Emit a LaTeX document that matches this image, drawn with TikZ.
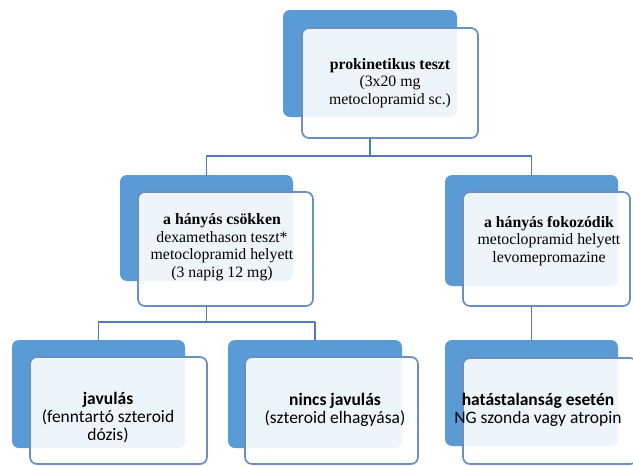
\documentclass[tikz,border=0pt]{standalone}
\usepackage{fontspec}
\setmainfont{Liberation Serif}
\newfontfamily\calfont{Carlito}
\definecolor{boxblue}{HTML}{5B9BD5}
\definecolor{edgeblue}{HTML}{6A90C2}
\definecolor{linkblue}{HTML}{4F7DB0}
\begin{document}
\begin{tikzpicture}[x=1pt,y=-1pt,line cap=round,line join=round,
  back/.style={fill=boxblue,rounded corners=7pt,inner sep=0pt},
  front/.style={draw=edgeblue,line width=1.7pt,fill=white,fill opacity=0.9,rounded corners=7pt,inner sep=0pt},
  link/.style={draw=linkblue,line width=1.6pt},
  serif/.style={align=center,font=\fontsize{15.8}{17.5}\selectfont,inner sep=0pt},
  calib/.style={align=center,font=\calfont\fontsize{17.5}{18}\selectfont,inner sep=0pt}]
  \useasboundingbox (0,0) rectangle (633,466);
  % back and front of each box
  \foreach \n/\bx/\by/\bw/\bh/\fx/\fy/\fw/\fh in {
      top/370/63.5/174/107/390/83/176/110,
      ml/206.5/228/173/106/225.5/249/175/114,
      mr/531.5/230.5/173/111/546.5/249/167/114,
      bl/98.5/394/173/108/118.5/410.5/177/107,
      bm/315/394/174/108/331.5/410.5/173/107,
      br/531.5/393/173/106/550/411/174/106}
  {
    \node[back,minimum width=\bw pt,minimum height=\bh pt] (\n b) at (\bx,\by) {};
    \node[front,minimum width=\fw pt,minimum height=\fh pt] (\n f) at (\fx,\fy) {};
  }
  % connectors
  \draw[link] (topb.center |- topf.south) -- ++(0,17) coordinate (topj);
  \draw[link] (topj) -| (mlb.north);
  \draw[link] (topj) -| (mrb.north);
  \draw[link] (mlb.center |- mlf.south) -- ++(0,15) coordinate (mlj);
  \draw[link] (mlj) -| (blb.north);
  \draw[link] (mlj) -| (bmb.north);
  \draw[link] (mrb.center |- mrf.south) -- (brb.north);
  % texts
  \node[serif] (toptxt) at (390,83) {\textbf{prokinetikus teszt}\\(3x20 mg\\metoclopramid sc.)};
  \node[serif] (mltxt) at (222,247) {\textbf{a hányás csökken}\\dexamethason teszt*\\metoclopramid helyett\\(3 napig 12 mg)};
  \node[serif] (mrtxt) at (549,241) {\textbf{a hányás fokozódik}\\metoclopramid helyett\\levomepromazine};
  \node[calib] (bltxt) at (108,418) {\textbf{javulás}\\(fenntartó szteroid\\dózis)};
  \node[calib] (bmtxt) at (335,410) {\textbf{nincs javulás}\\(szteroid elhagyása)};
  \node[calib] (brtxt) at (538,410) {\textbf{hatástalanság esetén}\\NG szonda vagy atropin};
\end{tikzpicture}
\end{document}
